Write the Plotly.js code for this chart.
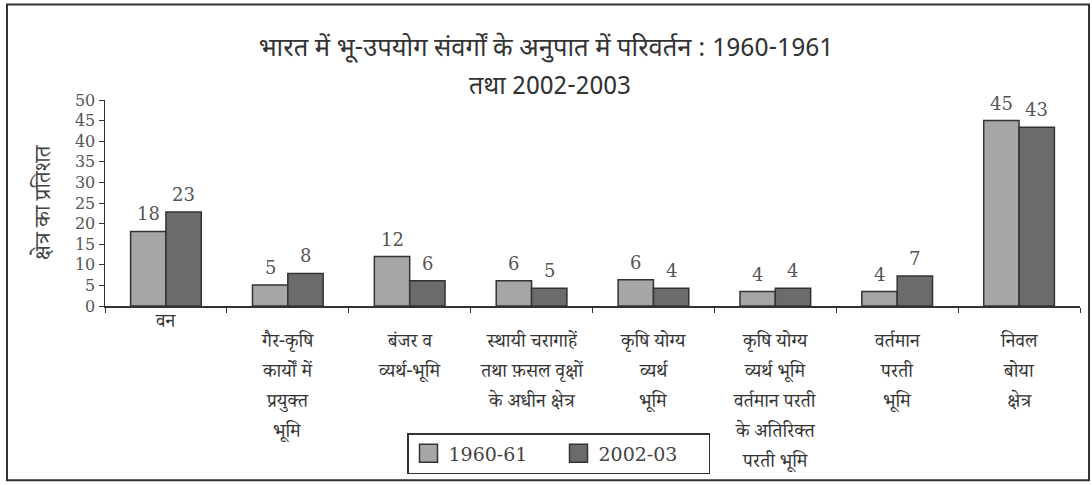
<!DOCTYPE html>
<html>
<head>
<meta charset="utf-8">
<script src="https://cdn.plot.ly/plotly-3.0.1.min.js"></script>
<style>
  html, body { margin: 0; padding: 0; background: #fff; }
  #chart { width: 1092px; height: 485px; }
</style>
</head>
<body>
<div id="chart"></div>
<script>
// ---- data ----
const categories = [
  'वन',
  'गैर-कृषि कार्यों में प्रयुक्त भूमि',
  'बंजर व व्यर्थ-भूमि',
  'स्थायी चरागाहें तथा फ़सल वृक्षों के अधीन क्षेत्र',
  'कृषि योग्य व्यर्थ भूमि',
  'कृषि योग्य व्यर्थ भूमि वर्तमान परती के अतिरिक्त परती भूमि',
  'वर्तमान परती भूमि',
  'निवल बोया क्षेत्र'
];
const categoryLines = [
  ['वन'],
  ['गैर-कृषि', 'कार्यों में', 'प्रयुक्त', 'भूमि'],
  ['बंजर व', 'व्यर्थ-भूमि'],
  ['स्थायी चरागाहें', 'तथा फ़सल वृक्षों', 'के अधीन क्षेत्र'],
  ['कृषि योग्य', 'व्यर्थ', 'भूमि'],
  ['कृषि योग्य', 'व्यर्थ भूमि', 'वर्तमान परती', 'के अतिरिक्त', 'परती भूमि'],
  ['वर्तमान', 'परती', 'भूमि'],
  ['निवल', 'बोया', 'क्षेत्र']
];
const seriesNames = ['1960-61', '2002-03'];
const values1960 = [18.1, 5.1, 12.0, 6.1, 6.4, 3.5, 3.5, 45.0];
const values2002 = [22.8, 7.9, 6.1, 4.3, 4.3, 4.3, 7.3, 43.4];
const labels1960 = ['18', '5', '12', '6', '6', '4', '4', '45'];
const labels2002 = ['23', '8', '6', '5', '4', '4', '7', '43'];
const yTicks = [0, 5, 10, 15, 20, 25, 30, 35, 40, 45, 50];
const titleLine1 = 'भारत में भू-उपयोग संवर्गों के अनुपात में परिवर्तन : 1960-1961';
const titleLine2 = 'तथा 2002-2003';
const yTitle = 'क्षेत्र का प्रतिशत';

// ---- layout geometry ----
const W = 1092, H = 485;
const M = { l: 105, r: 12, t: 100, b: 178 };
const plotW = W - M.l - M.r, plotH = H - M.t - M.b;
const px2x = p => (p - M.l) / plotW;
const py2y = p => (H - M.b - p) / plotH;

const serif = 'DejaVu Serif, Liberation Serif, serif';
const deva = 'Noto Serif Devanagari, Noto Sans Devanagari, Lohit Devanagari, Noto Sans, sans-serif';
const devaSans = 'Noto Sans Devanagari, Noto Sans, sans-serif';

const bargap = 0.42;
const barPx = plotW / categories.length * (1 - bargap) / 2;

const traces = [
  { type: 'bar', name: seriesNames[0], x: categories, y: values1960,
    marker: { color: '#a6a6a6', line: { color: '#333', width: 1.5 } }, hoverinfo: 'y' },
  { type: 'bar', name: seriesNames[1], x: categories, y: values2002,
    marker: { color: '#6b6b6b', line: { color: '#333', width: 1.5 } }, hoverinfo: 'y' }
];

const annotations = [];
// value labels
[[values1960, labels1960, -1], [values2002, labels2002, 1]].forEach(([vals, labs, side]) => {
  vals.forEach((v, i) => {
    annotations.push({
      x: categories[i], y: v, xref: 'x', yref: 'y',
      xshift: side * barPx / 2, yshift: 5, yanchor: 'bottom',
      text: labs[i], showarrow: false,
      font: { family: serif, size: 18, color: '#555' }
    });
  });
});
// category labels, one line each
categoryLines.forEach((lines, i) => {
  const top = i === 0 ? 325 : 345;
  lines.forEach((ln, j) => {
    annotations.push({
      x: categories[i], xref: 'x', y: py2y(top + j * 30.3), yref: 'paper',
      yanchor: 'middle', text: ln, showarrow: false,
      font: { family: deva, size: 19, color: '#333' }
    });
  });
});
// title second line
annotations.push({
  x: (550 - M.l) / plotW, xref: 'paper', y: py2y(88), yref: 'paper',
  yanchor: 'middle', text: titleLine2, showarrow: false,
  font: { family: devaSans, size: 25, color: '#333' }
});

const layout = {
  width: W, height: H,
  margin: M,
  paper_bgcolor: '#fff', plot_bgcolor: '#fff',
  title: { text: titleLine1, x: 546 / W, xref: 'container', xanchor: 'center',
           y: 1 - 47 / H, yref: 'container', yanchor: 'middle',
           font: { family: devaSans, size: 25.5, color: '#333' } },
  barmode: 'group', bargap: bargap, bargroupgap: 0,
  showlegend: true,
  legend: {
    orientation: 'h', x: px2x(407), xanchor: 'left', y: py2y(433), yanchor: 'top',
    bordercolor: '#333', borderwidth: 1.5, bgcolor: '#fff',
    font: { family: serif, size: 19, color: '#444' },
    entrywidth: 105, traceorder: 'normal'
  },
  xaxis: {
    type: 'category', range: [-0.5, categories.length - 0.5],
    showline: true, linecolor: '#333', linewidth: 1.5,
    ticks: 'outside', tickson: 'boundaries', ticklen: 5, tickcolor: '#333',
    showticklabels: false, showgrid: false, zeroline: false, fixedrange: true
  },
  yaxis: {
    range: [0, 50], tickvals: yTicks, ticktext: yTicks.map(String),
    showline: true, linecolor: '#333', linewidth: 1.5,
    ticks: 'outside', ticklen: 5, tickcolor: '#333',
    tickfont: { family: serif, size: 16, color: '#555' },
    showgrid: false, zeroline: false, fixedrange: true,
    title: { text: yTitle, standoff: 18, font: { family: deva, size: 22, color: '#444' } }
  },
  annotations: annotations,
  shapes: [{
    type: 'rect', xref: 'paper', yref: 'paper',
    x0: px2x(7), x1: px2x(1089), y0: py2y(482), y1: py2y(4),
    line: { color: '#333', width: 2 }, fillcolor: 'rgba(0,0,0,0)', layer: 'below'
  }]
};

Plotly.newPlot('chart', traces, layout, { displayModeBar: false, staticPlot: true }).then(gd => {
  // enlarge legend swatches to match the reference's square keys
  gd.querySelectorAll('.legend .legendpoints path').forEach(p => {
    p.setAttribute('d', 'M9,9H-9V-9H9Z');
  });
});
</script>
</body>
</html>
